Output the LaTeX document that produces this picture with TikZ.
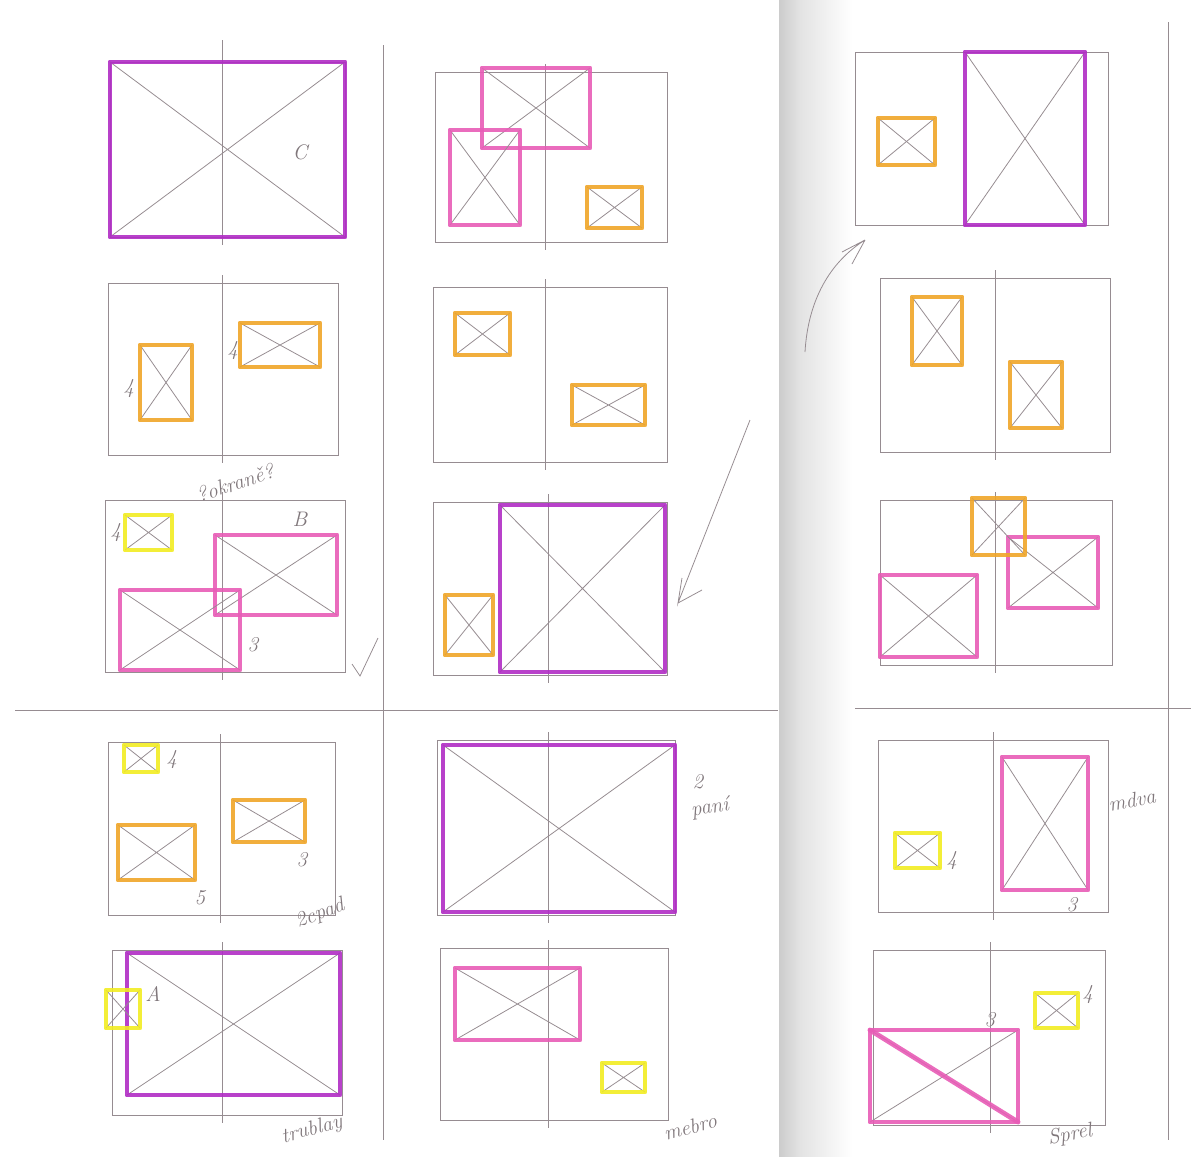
\documentclass[tikz,border=0pt]{standalone}
\usepackage{tikz}
\definecolor{pencilgray}{RGB}{150,140,145}
\definecolor{pinkm}{RGB}{232,92,182}
\definecolor{violetm}{RGB}{176,44,196}
\definecolor{orangem}{RGB}{240,165,40}
\definecolor{yellowm}{RGB}{242,236,34}
\begin{document}
\begin{tikzpicture}[
            x={(0.02cm,0cm)},
            y={(0cm,-0.02cm)},
            sketch/.style={draw=pencilgray, line width=0.45pt},
            marker/.style={line width=2.8pt, line cap=round, line join=round, opacity=0.9},
            note/.style={text=pencilgray!85!black, font=\itshape\fontsize{12}{14}\selectfont, inner sep=1pt}
        ]
        \useasboundingbox (0,0) rectangle (1191,1157);
        % gutter shadow
        \shade[left color=gray!40, right color=gray!22] (779,0) rectangle (800,1157);
        \shade[left color=gray!22, right color=white] (800,0) rectangle (852,1157);

        % page divisions
        \draw[sketch] (383,45) -- (383,1140);
        \draw[sketch] (15,710) -- (778,710);
        \draw[sketch] (855,708) -- (1191,708);
        \draw[sketch] (1168,22) -- (1168,1140);

        % sheet outlines and fold lines
        \foreach \xa/\ya/\xb/\yb/\xm in {110/62/345/237/222, 108/283/338/455/222,
                105/500/345/672/222, 108/742/335/915/220, 112/950/342/1115/222,
                435/72/667/242/545, 433/287/667/462/545, 433/502/667/675/548,
                437/740/675/915/548, 440/948/668/1120/548,
                880/278/1110/452/995, 880/500/1112/665/995,
                878/740/1108/912/993, 873/950/1105/1125/990} {
            \draw[sketch] (\xa,\ya) rectangle (\xb,\yb);
            \draw[sketch] (\xm,\ya-8) -- (\xm,\yb+8);
        }
        \draw[sketch] (855,52) rectangle (1108,225);
        \draw[sketch] (222,40) -- (222,62);

        % big pictures
        \foreach \xa/\ya/\xb/\yb in {110/62/345/237, 127/953/340/1095, 500/505/665/672,
                443/745/675/912, 965/52/1085/225} {
            \draw[sketch] (\xa,\ya) -- (\xb,\yb) (\xa,\yb) -- (\xb,\ya);
            \draw[marker, draw=violetm] (\xa,\ya) rectangle (\xb,\yb);
        }
        \foreach \xa/\ya/\xb/\yb in {215/535/337/615, 120/590/240/670, 482/68/590/148,
                450/130/520/225, 455/968/580/1040, 1008/537/1098/608, 880/575/977/657,
                1002/757/1088/890, 870/1030/1018/1122} {
            \draw[sketch] (\xa,\ya) -- (\xb,\yb) (\xa,\yb) -- (\xb,\ya);
            \draw[marker, draw=pinkm] (\xa,\ya) rectangle (\xb,\yb);
        }
        % small pictures
        \foreach \xa/\ya/\xb/\yb in {140/345/192/420, 240/323/320/367, 118/825/195/880,
                233/800/305/842, 587/187/642/228, 455/313/510/355, 572/385/645/425,
                445/595/493/655, 878/118/935/165, 912/297/962/365, 1010/362/1062/428,
                972/498/1025/555} {
            \draw[sketch] (\xa,\ya) -- (\xb,\yb) (\xa,\yb) -- (\xb,\ya);
            \draw[marker, draw=orangem] (\xa,\ya) rectangle (\xb,\yb);
        }
        \foreach \xa/\ya/\xb/\yb in {125/515/172/550, 124/745/158/772, 106/990/140/1028,
                602/1063/645/1092, 895/833/940/868, 1035/993/1078/1028} {
            \draw[sketch] (\xa,\ya) -- (\xb,\yb) (\xa,\yb) -- (\xb,\ya);
            \draw[marker, draw=yellowm] (\xa,\ya) rectangle (\xb,\yb);
        }
        \draw[marker, draw=pinkm] (870,1030) -- (1018,1122);

        % hand arrows and tick
        \draw[sketch] (750,420) -- (678,603) -- (682,578) (678,603) -- (702,590);
        \draw[sketch] (805,352) .. controls (808,300) and (830,262) .. (865,240)
            (865,240) -- (842,252) (865,240) -- (852,264);
        \draw[sketch] (352,664) -- (360,676) -- (378,638);

        % notes
        \node[note] (nC) at (300,152) {C};
        \node[note, rotate=18] (nokr) at (235,483) {?okraně?};
        \node[note] (n4a) at (129,389) {4};
        \node[note] (n4b) at (233,351) {4};
        \node[note] (n4c) at (116,533) {4};
        \node[note] (nB) at (300,519) {B};
        \node[note] (n3a) at (253,645) {3};
        \node[note] (n4d) at (172,760) {4};
        \node[note] (n3b) at (302,860) {3};
        \node[note] (n5) at (200,898) {5};
        \node[note, rotate=20] (nzap) at (320,914) {2cpad};
        \node[note] (nA) at (153,994) {A};
        \node[note, rotate=15] (ntru) at (312,1130) {trublay};
        \node[note] (n2) at (698,782) {2};
        \node[note, rotate=10] (npani) at (710,808) {paní};
        \node[note, rotate=15] (nmeb) at (690,1127) {mebro};
        \node[note, rotate=10] (nmdva) at (1132,800) {mdva};
        \node[note] (n4e) at (952,861) {4};
        \node[note] (n3c) at (1072,905) {3};
        \node[note] (n4f) at (1088,995) {4};
        \node[note] (n3d) at (990,1020) {3};
        \node[note, rotate=10] (nspr) at (1070,1135) {Sprel};
    \end{tikzpicture}
\end{document}
